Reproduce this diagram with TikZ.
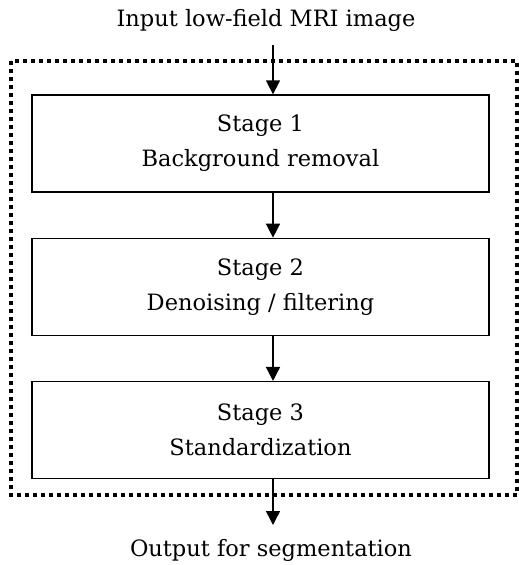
\documentclass[tikz,border=0pt]{standalone}
\usepackage{fontspec}
\setmainfont{DejaVu Serif}
\usepackage{tikz}
\usetikzlibrary{arrows.meta, positioning}
\tikzstyle{stagebox} = [rectangle, minimum width=457pt, minimum height=97pt, text centered, align=center, draw=black, line width=1.3pt, font=\fontsize{22.5}{35}\selectfont]
\tikzstyle{label} = [font=\fontsize{22.5}{27}\selectfont]
\tikzstyle{arrow} = [line width=1.5pt, -{Triangle[width=14pt,length=14pt]}]

\begin{document}
\begin{tikzpicture}[x=1pt, y=1pt, node distance=45pt]
\useasboundingbox (0,0) rectangle (519,-565);

% Nodes
\node (input) [label] at (266,-20) {Input low-field MRI image};
\node (s1) [stagebox] at (260.5,-143.5) {Stage 1\\Background removal};
\node (s2) [stagebox, below=of s1] {Stage 2\\Denoising / filtering};
\node (s3) [stagebox, below=of s2] {Stage 3\\Standardization};
\node (output) [label] at (271,-550) {Output for segmentation};
\coordinate (intail) at (273,-45);
\coordinate (outtip) at (273,-525);

% Dotted frame
\draw [line width=3.6pt, dash pattern=on 3.6pt off 4.4pt] (11,-61) rectangle (517,-495);

% Arrows
\draw [arrow] (intail) -- (intail |- s1.north);
\draw [arrow] ([xshift=12.5pt]s1.south) -- ([xshift=12.5pt]s2.north);
\draw [arrow] ([xshift=12.5pt]s2.south) -- ([xshift=12.5pt]s3.north);
\draw [arrow] ([xshift=12.5pt]s3.south) -- (outtip);

\end{tikzpicture}
\end{document}
